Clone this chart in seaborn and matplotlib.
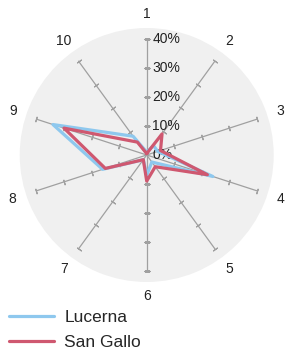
import numpy as np
import pandas as pd
import matplotlib
matplotlib.use('Agg')
import matplotlib.pyplot as plt
import seaborn as sns

categories = ['1', '2', '3', '4', '5', '6', '7', '8', '9', '10']
lucerna = [1, 4, 4, 24, 3, 7, 2, 16, 34, 8]
san_gallo = [0.5, 9, 5, 22, 5, 9, 2, 15, 30, 5.5]
r_ticks = [0, 10, 20, 30, 40]
r_tick_labels = ['0%', '10%', '20%', '30%', '40%']
series_names = ['Lucerna', 'San Gallo']
colors = ['#8ec8ee', '#cf5870']

sns.set_theme(style='white')
plt.rcParams['font.family'] = ['Liberation Sans', 'DejaVu Sans']

angles = np.linspace(0, 2 * np.pi, len(categories), endpoint=False)

# closed polygons: repeat first point at 2*pi
rows = []
for name, vals in zip(series_names, [lucerna, san_gallo]):
    for i, a in enumerate(angles):
        rows.append({'series': name, 'theta': a, 'value': vals[i] / 100})
    rows.append({'series': name, 'theta': 2 * np.pi, 'value': vals[0] / 100})
df = pd.DataFrame(rows)

fig = plt.figure(figsize=(2.89, 3.54), dpi=100)
ax = fig.add_axes([0.0682, 0.2034, 0.8789, 0.7175], projection='polar')
ax.set_theta_zero_location('N')
ax.set_theta_direction(-1)
ax.set_facecolor('#f0f0f0')
ax.spines['polar'].set_visible(False)
ax.grid(False)

rmax = 0.40
# spokes with small tick marks
for a in angles:
    ax.plot([a, a], [0, rmax], color='#a0a0a0', lw=0.9, zorder=1)
    ax.plot([a] * (len(r_ticks) - 1), [t / 100 for t in r_ticks[1:]], ls='none',
            marker=(2, 2, 90 - np.degrees(a)), ms=4, mew=0.8, color='#a0a0a0', zorder=1)

sns.lineplot(data=df, x='theta', y='value', hue='series', palette=colors,
             sort=False, estimator=None, lw=2.3, legend=False, ax=ax, zorder=3)

ax.set_ylim(0, 0.438)
ax.set_yticks([])
ax.set_xticks(angles)
ax.set_xticklabels([])
ax.set_xlabel('')
ax.set_ylabel('')

# category labels just outside the grey disc
for a, lab in zip(angles, categories):
    ax.text(a, 0.486, lab, ha='center', va='center', fontsize=10,
            color='#222222', clip_on=False)

for t, lab in zip(r_ticks, r_tick_labels):
    ax.annotate(lab, xy=(0, t / 100), xytext=(4, 0), textcoords='offset points',
                ha='left', va='center', fontsize=10, color='#222222', zorder=2)

handles = [plt.Line2D([], [], color=c, lw=2.3) for c in colors]
fig.legend(handles, series_names, loc='upper left', bbox_to_anchor=(0.03, 0.124),
           frameon=False, fontsize=12.5, handlelength=2.6, handletextpad=0.6,
           labelspacing=0.55, borderpad=0, borderaxespad=0)

fig.savefig('out.png', dpi=100)
